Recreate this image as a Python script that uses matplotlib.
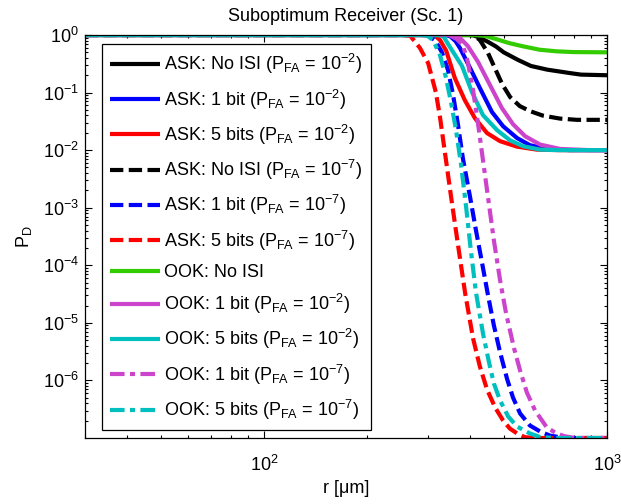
import matplotlib
matplotlib.use("Agg")
import matplotlib.pyplot as plt
from matplotlib.ticker import LogLocator, NullFormatter, LogFormatterSciNotation, FixedLocator

plt.rcParams.update({
    "font.family": ["Liberation Sans", "DejaVu Sans"],
    "font.size": 13,
    "mathtext.fontset": "custom",
    "mathtext.rm": "Liberation Sans",
    "mathtext.it": "Liberation Sans:italic",
    "mathtext.bf": "Liberation Sans:bold",
    "mathtext.default": "regular",
    "axes.linewidth": 0.9,
})

# distance r [um] and detection probability P_D for each receiver configuration
r_ask_noisi_fa2 = [30, 405, 425, 450, 475, 500, 550, 600, 670, 780, 840, 1000]
pd_ask_noisi_fa2 = [1, 1, 0.9, 0.76, 0.63, 0.5, 0.37, 0.29, 0.25, 0.218, 0.205, 0.2]

r_ask_1bit_fa2 = [30, 340, 350, 362, 373, 399, 426, 462, 498, 547, 596, 668, 780, 1000]
pd_ask_1bit_fa2 = [1, 1, 0.94, 0.78, 0.59, 0.267, 0.12, 0.046, 0.026, 0.0162, 0.0122, 0.0105, 0.01, 0.01]

r_ask_5bit_fa2 = [30, 305, 315, 326, 340, 360, 385, 412, 447, 488, 547, 625, 730, 1000]
pd_ask_5bit_fa2 = [1, 1, 0.97, 0.82, 0.53, 0.18, 0.074, 0.036, 0.0198, 0.0143, 0.0115, 0.0102, 0.01, 0.01]

r_ask_noisi_fa7 = [30, 400, 410, 426, 450, 471, 495, 522, 557, 596, 650, 730, 818, 1000]
pd_ask_noisi_fa7 = [1, 1, 0.97, 0.82, 0.486, 0.267, 0.14, 0.0835, 0.0582, 0.0477, 0.0398, 0.0353, 0.0336, 0.0336]

r_ask_1bit_fa7 = [30, 295, 301, 315, 330, 344, 356, 368, 380, 399, 415, 432, 450, 468, 488,
                  511, 532, 558, 596, 638, 682, 754, 1000]
pd_ask_1bit_fa7 = [1, 1, 0.98, 0.818, 0.506, 0.246, 0.0905, 0.0272, 0.0073, 1.52e-3, 4.06e-4,
                   1.13e-4, 3.01e-5, 9.05e-6, 3.07e-6, 1.08e-6, 5.06e-7, 2.67e-7, 1.65e-7,
                   1.3e-7, 1.1e-7, 1e-7, 1e-7]

r_ask_5bit_fa7 = [30, 255, 267, 285, 301, 317, 326, 335, 351, 368, 386, 407, 426, 447, 472,
                  498, 521, 547, 577, 638, 1000]
pd_ask_5bit_fa7 = [1, 1, 0.97, 0.594, 0.326, 0.102, 0.0375, 0.0117, 1.585e-3, 2.23e-4,
                   3.26e-5, 5.38e-6, 1.75e-6, 6.97e-7, 3.39e-7, 2.01e-7, 1.46e-7, 1.2e-7,
                   1.03e-7, 1e-7, 1e-7]

r_ook_noisi = [30, 405, 440, 478, 520, 569, 636, 714, 800, 1000]
pd_ook_noisi = [1, 1, 0.97, 0.84, 0.72, 0.636, 0.555, 0.52, 0.505, 0.5]

r_ook_1bit_fa2 = [30, 355, 368, 393, 421, 456, 494, 532, 577, 638, 730, 892, 1000]
pd_ook_1bit_fa2 = [1, 1, 0.96, 0.644, 0.339, 0.135, 0.0537, 0.0283, 0.0175, 0.0125, 0.0105, 0.01, 0.01]

r_ook_5bit_fa2 = [30, 320, 333, 353, 378, 404, 435, 478, 521, 569, 638, 730, 1000]
pd_ook_5bit_fa2 = [1, 1, 0.96, 0.548, 0.289, 0.102, 0.0406, 0.0223, 0.0149, 0.0117, 0.0102, 0.01, 0.01]

r_ook_1bit_fa7 = [30, 340, 348.5, 365, 380, 393, 407, 421, 435, 450, 468, 488, 508, 536, 558,
                  584, 617, 668, 710, 749, 807, 1000]
pd_ook_1bit_fa7 = [1, 1, 0.98, 0.852, 0.67, 0.339, 0.1105, 0.0283, 6.7e-3, 1.52e-3, 2.72e-4,
                   5.48e-5, 1.46e-5, 3.6e-6, 1.49e-6, 6.18e-7, 3.01e-7, 1.52e-7, 1.22e-7,
                   1.08e-7, 1e-7, 1e-7]

r_ook_5bit_fa7 = [30, 290, 299, 311, 326, 339, 351, 363, 375, 388, 401, 415, 435, 453, 468,
                  488, 515, 547, 596, 638, 705, 1000]
pd_ook_5bit_fa7 = [1, 1, 0.98, 0.818, 0.449, 0.186, 0.0684, 0.0223, 5.94e-3, 1.1e-3, 1.82e-4,
                   3.39e-5, 6.57e-6, 2.06e-6, 8.87e-7, 4.49e-7, 2.37e-7, 1.58e-7, 1.2e-7,
                   1.04e-7, 1e-7, 1e-7]

labels = [
    r"ASK: No ISI (P$_{FA}$ = 10$^{-2}$)",
    r"ASK: 1 bit (P$_{FA}$ = 10$^{-2}$)",
    r"ASK: 5 bits (P$_{FA}$ = 10$^{-2}$)",
    r"ASK: No ISI (P$_{FA}$ = 10$^{-7}$)",
    r"ASK: 1 bit (P$_{FA}$ = 10$^{-7}$)",
    r"ASK: 5 bits (P$_{FA}$ = 10$^{-7}$)",
    r"OOK: No ISI",
    r"OOK: 1 bit (P$_{FA}$ = 10$^{-2}$)",
    r"OOK: 5 bits (P$_{FA}$ = 10$^{-2}$)",
    r"OOK: 1 bit (P$_{FA}$ = 10$^{-7}$)",
    r"OOK: 5 bits (P$_{FA}$ = 10$^{-7}$)",
]

series = [
    (r_ask_noisi_fa2, pd_ask_noisi_fa2),
    (r_ask_1bit_fa2, pd_ask_1bit_fa2),
    (r_ask_5bit_fa2, pd_ask_5bit_fa2),
    (r_ask_noisi_fa7, pd_ask_noisi_fa7),
    (r_ask_1bit_fa7, pd_ask_1bit_fa7),
    (r_ask_5bit_fa7, pd_ask_5bit_fa7),
    (r_ook_noisi, pd_ook_noisi),
    (r_ook_1bit_fa2, pd_ook_1bit_fa2),
    (r_ook_5bit_fa2, pd_ook_5bit_fa2),
    (r_ook_1bit_fa7, pd_ook_1bit_fa7),
    (r_ook_5bit_fa7, pd_ook_5bit_fa7),
]

BLACK, BLUE, RED = "#000000", "#0000ff", "#ff0000"
GREEN, MAGENTA, CYAN = "#33cc00", "#cc44cc", "#00bfbf"
dash = (0, (3.2, 1.3))
dashdot = (0, (3.5, 1.3, 1.2, 1.3))
colors = [BLACK, BLUE, RED, BLACK, BLUE, RED, GREEN, MAGENTA, CYAN, MAGENTA, CYAN]
styles = ["-", "-", "-", dash, dash, dash, "-", "-", "-", dashdot, dashdot]

fig = plt.figure(figsize=(6.21, 5.04), dpi=100)
ax = fig.add_axes([84.5 / 621, 1 - 438 / 504, 522.5 / 621, 403 / 504])

for (r, pd), c, ls, lab in zip(series, colors, styles, labels):
    ax.plot(r, pd, color=c, linestyle=ls, linewidth=3.0, label=lab,
            dash_capstyle="butt", solid_capstyle="butt")

ax.set_xscale("log")
ax.set_yscale("log")
ax.set_xlim(30, 1000)
ax.set_ylim(1.0001e-7, 1)

ax.xaxis.set_major_locator(FixedLocator([1e2, 1e3]))
ax.yaxis.set_major_locator(FixedLocator([1e-6, 1e-5, 1e-4, 1e-3, 1e-2, 1e-1, 1e0]))
ax.xaxis.set_major_formatter(LogFormatterSciNotation())
ax.yaxis.set_major_formatter(LogFormatterSciNotation())
for axis in (ax.xaxis, ax.yaxis):
    axis.set_minor_locator(LogLocator(base=10, subs=range(2, 10), numticks=20))
    axis.set_minor_formatter(NullFormatter())

ax.tick_params(which="both", direction="in", top=True, right=True, width=0.8)
ax.tick_params(which="major", length=5)
ax.tick_params(which="minor", length=2.5)
ax.tick_params(axis="x", pad=12)
ax.tick_params(axis="y", pad=4)

ax.set_title("Suboptimum Receiver (Sc. 1)", fontsize=13, pad=10)
ax.set_xlabel("r [\u03bcm]", fontsize=13, labelpad=4)
ax.set_ylabel("P$_D$", fontsize=13, labelpad=6)

leg = ax.legend(loc="upper left", bbox_to_anchor=((102 - 84.5) / 522.5, 1 - (44 - 35) / 403),
                borderaxespad=0, fontsize=13, frameon=True, fancybox=False,
                edgecolor="black", framealpha=1, handlelength=2.75, handletextpad=0.25,
                labelspacing=0.62, borderpad=0.45)
leg.get_frame().set_linewidth(0.9)

fig.savefig("out.png", dpi=100)
